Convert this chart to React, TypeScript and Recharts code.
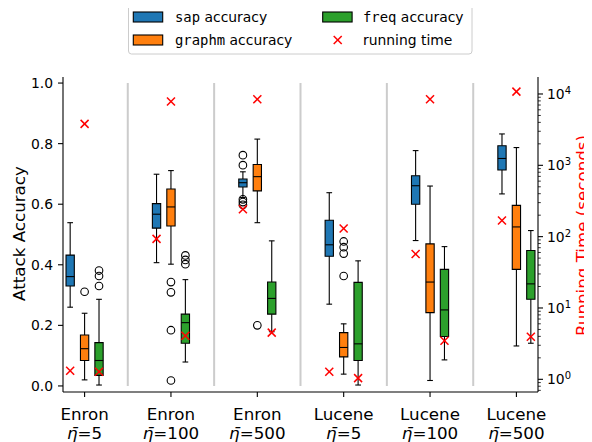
import {ComposedChart, ReferenceArea, ReferenceLine, Scatter, XAxis, YAxis} from "recharts";

const datasets = ["Enron", "Enron", "Enron", "Lucene", "Lucene", "Lucene"];
const etaValues = ["5", "100", "500", "5", "100", "500"];

// [lower whisker, q1, median, q3, upper whisker]
const sapBoxes = [
    [0.260, 0.330, 0.361, 0.432, 0.539],
    [0.407, 0.521, 0.567, 0.602, 0.699],
    [0.622, 0.657, 0.671, 0.683, 0.707],
    [0.270, 0.428, 0.466, 0.547, 0.638],
    [0.480, 0.600, 0.661, 0.694, 0.777],
    [0.634, 0.713, 0.751, 0.793, 0.832],
];
const graphmBoxes = [
    [0.020, 0.084, 0.123, 0.168, 0.240],
    [0.402, 0.528, 0.591, 0.650, 0.711],
    [0.539, 0.644, 0.691, 0.731, 0.815],
    [0.039, 0.096, 0.127, 0.176, 0.205],
    [0.018, 0.242, 0.343, 0.469, 0.660],
    [0.132, 0.385, 0.525, 0.596, 0.787],
];
const freqBoxes = [
    [0.003, 0.035, 0.084, 0.143, 0.286],
    [0.079, 0.141, 0.209, 0.237, 0.351],
    [0.179, 0.237, 0.289, 0.343, 0.479],
    [0.003, 0.084, 0.139, 0.342, 0.413],
    [0.086, 0.163, 0.251, 0.385, 0.460],
    [0.141, 0.286, 0.337, 0.447, 0.513],
];

const sapOutliers = [[], [], [0.762, 0.729, 0.616, 0.607, 0.598], [], [], []];
const graphmOutliers = [[0.311], [0.343, 0.309, 0.184, 0.018], [0.200], [0.477, 0.458, 0.437, 0.363], [], []];
const freqOutliers = [[0.381, 0.363, 0.330], [0.431, 0.416, 0.402], [], [], [], []];

// running time in seconds
const sapTime = [1.32, 93, 242, 1.28, 57, 168];
const graphmTime = [3810, 7830, 8430, 130, 8430, 10800];
const freqTime = [1.28, 4.09, 4.51, 1.04, 3.48, 3.96];

const leftTicks = [0, 0.2, 0.4, 0.6, 0.8, 1.0];
const rightTicks = [0.7, 0.8, 0.9, 1, 2, 3, 4, 5, 6, 7, 8, 9, 10, 20, 30, 40, 50, 60, 70, 80, 90,
    100, 200, 300, 400, 500, 600, 700, 800, 900, 1000, 2000, 3000, 4000, 5000, 6000, 7000, 8000, 9000, 10000];

const FONT = "DejaVu Sans";
const MONO = "DejaVu Sans Mono";
const BOX_HALF = 0.048;
const CAP_HALF = 0.033;

const series = [
    {name: "sap", boxes: sapBoxes, outliers: sapOutliers, times: sapTime, color: "#1f77b4", offset: -0.167},
    {name: "graphm", boxes: graphmBoxes, outliers: graphmOutliers, times: graphmTime, color: "#ff7f0e", offset: 0},
    {name: "freq", boxes: freqBoxes, outliers: freqOutliers, times: freqTime, color: "#2ca02c", offset: 0.167},
];

const XTick = ({x, y, payload}: any) => {
    const i = payload.value;
    return (
        <text x={x} y={y} textAnchor="middle" fontSize={16.7} fontFamily={FONT} fill="#000">
            <tspan x={x} dy={21}>{datasets[i]}</tspan>
            <tspan x={x} dy={18.5}><tspan fontStyle="italic">η̄</tspan>={etaValues[i]}</tspan>
        </text>
    );
};

const RightTick = ({x, y, payload}: any) => {
    const v = payload.value;
    const exp = Math.round(Math.log10(v));
    const major = Math.abs(v - Math.pow(10, exp)) < 1e-6 * v;
    return (
        <g>
            <line x1={x} y1={y} x2={x + (major ? 5 : 2.8)} y2={y} stroke="#000" strokeWidth={major ? 1.1 : 0.8}/>
            {major && (
                <text x={x + 9} y={y} dy="0.36em" fontSize={13.9} fontFamily={FONT} fill="#000">
                    10<tspan dy={-5} fontSize={10}>{exp}</tspan>
                </text>
            )}
        </g>
    );
};

const Circle = ({cx, cy}: any) => (
    <circle cx={cx} cy={cy} r={3.8} fill="none" stroke="#000" strokeWidth={1.1}/>
);

const Cross = ({cx, cy}: any) => (
    <g stroke="#ff0000" strokeWidth={1.5}>
        <line x1={cx - 4} y1={cy - 4} x2={cx + 4} y2={cy + 4}/>
        <line x1={cx - 4} y1={cy + 4} x2={cx + 4} y2={cy - 4}/>
    </g>
);

function LegendBox() {
    const rows = [
        {name: "sap", color: "#1f77b4", px: 133.3, tx: 175, y: 17},
        {name: "graphm", color: "#ff7f0e", px: 133.3, tx: 175, y: 40},
        {name: "freq", color: "#2ca02c", px: 322.7, tx: 363, y: 17},
    ];
    return (
        <svg width={592} height={60} style={{position: "absolute", left: -8, top: -8}}>
            <rect x={128.5} y={4.5} width={343.5} height={49.5} rx={3} fill="#fff" fillOpacity={0.8} stroke="#cccccc"/>
            {rows.map(r => (
                <g key={r.name}>
                    <rect x={r.px} y={r.y - 5} width={29.4} height={10} fill={r.color} stroke="#000" strokeWidth={1.1}/>
                    <text x={r.tx} y={r.y} dy="0.36em" fontSize={13.9} fill="#000">
                        <tspan fontFamily={MONO}>{r.name}</tspan>
                        <tspan fontFamily={FONT}> accuracy</tspan>
                    </text>
                </g>
            ))}
            <Cross cx={337.7} cy={40}/>
            <text x={363} y={40} dy="0.36em" fontSize={13.9} fontFamily={FONT} fill="#000">running time</text>
        </svg>
    );
}

export default function App() {
    const boxes: any[] = [];
    series.forEach(s => {
        s.boxes.forEach((b, i) => {
            const x = i + s.offset;
            const [lo, q1, med, q3, hi] = b;
            const k = s.name + i;
            boxes.push(<ReferenceLine key={k + "wl"} yAxisId="acc" segment={[{x, y: lo}, {x, y: q1}]} stroke="#000" strokeWidth={1.1}/>);
            boxes.push(<ReferenceLine key={k + "wh"} yAxisId="acc" segment={[{x, y: q3}, {x, y: hi}]} stroke="#000" strokeWidth={1.1}/>);
            boxes.push(<ReferenceLine key={k + "cl"} yAxisId="acc" segment={[{x: x - CAP_HALF, y: lo}, {x: x + CAP_HALF, y: lo}]} stroke="#000" strokeWidth={1.1}/>);
            boxes.push(<ReferenceLine key={k + "ch"} yAxisId="acc" segment={[{x: x - CAP_HALF, y: hi}, {x: x + CAP_HALF, y: hi}]} stroke="#000" strokeWidth={1.1}/>);
            boxes.push(<ReferenceArea key={k + "b"} yAxisId="acc" x1={x - BOX_HALF} x2={x + BOX_HALF} y1={q1} y2={q3} fill={s.color} fillOpacity={1} stroke="#000" strokeWidth={1.1}/>);
            boxes.push(<ReferenceLine key={k + "m"} yAxisId="acc" segment={[{x: x - BOX_HALF, y: med}, {x: x + BOX_HALF, y: med}]} stroke="#000" strokeWidth={1.1}/>);
        });
    });

    const outlierPoints: any[] = [];
    const timePoints: any[] = [];
    series.forEach(s => {
        s.outliers.forEach((list, i) => list.forEach(v => outlierPoints.push({x: i + s.offset, y: v})));
        s.times.forEach((t, i) => timePoints.push({x: i + s.offset, y: t}));
    });

    return (
        <div style={{position: "relative", width: 584, height: 434}}>
            <ComposedChart width={584} height={434} margin={{top: 69, right: 4, bottom: 4, left: 10}}>
                <XAxis dataKey="x" type="number" domain={[-0.25, 5.25]} allowDataOverflow ticks={[0, 1, 2, 3, 4, 5]}
                       interval={0} height={46} tickSize={5} tickMargin={2} tick={<XTick/>}
                       axisLine={{stroke: "#000", strokeWidth: 1.1}} tickLine={{stroke: "#000", strokeWidth: 1.1}}/>
                <XAxis xAxisId="top" orientation="top" type="number" domain={[-0.25, 5.25]} height={0}
                       tick={false} tickLine={false} axisLine={{stroke: "#000", strokeWidth: 1.1}}/>
                <YAxis yAxisId="acc" dataKey="y" type="number" domain={[-0.02, 1.02]} allowDataOverflow ticks={leftTicks}
                       interval={0} width={45} tickSize={5} tickMargin={5} tickFormatter={(v: number) => v.toFixed(1)}
                       tick={{fill: "#000", fontSize: 13.9, fontFamily: FONT}}
                       axisLine={{stroke: "#000", strokeWidth: 1.1}} tickLine={{stroke: "#000", strokeWidth: 1.1}}
                       label={{
                           content: () => (
                               <text x={17} y={225.5} textAnchor="middle" fontSize={16.7} fontFamily={FONT} fill="#000"
                                     transform="rotate(-90, 17, 225.5)">Attack Accuracy</text>
                           )
                       }}/>
                <YAxis yAxisId="time" orientation="right" dataKey="y" type="number" scale="log" domain={[0.664, 17300]}
                       allowDataOverflow ticks={rightTicks} interval={0} width={50} tickSize={0} tickMargin={0}
                       tickLine={false} tick={<RightTick/>} axisLine={{stroke: "#000", strokeWidth: 1.1}}
                       label={{
                           content: () => (
                               <text x={580} y={227.5} textAnchor="middle" fontSize={16.7} fontFamily={FONT} fill="#ff0000"
                                     transform="rotate(-90, 580, 227.5)">Running Time (seconds)</text>
                           )
                       }}/>
                {[0.5, 1.5, 2.5, 3.5, 4.5].map(x => (
                    <ReferenceLine key={"sep" + x} yAxisId="acc" segment={[{x, y: 0}, {x, y: 1}]} stroke="#cccccc" strokeWidth={2}/>
                ))}
                {boxes}
                <Scatter yAxisId="acc" data={outlierPoints} shape={<Circle/>} isAnimationActive={false}/>
                <Scatter yAxisId="time" data={timePoints} shape={<Cross/>} isAnimationActive={false}/>
            </ComposedChart>
            <LegendBox/>
        </div>
    );
}
